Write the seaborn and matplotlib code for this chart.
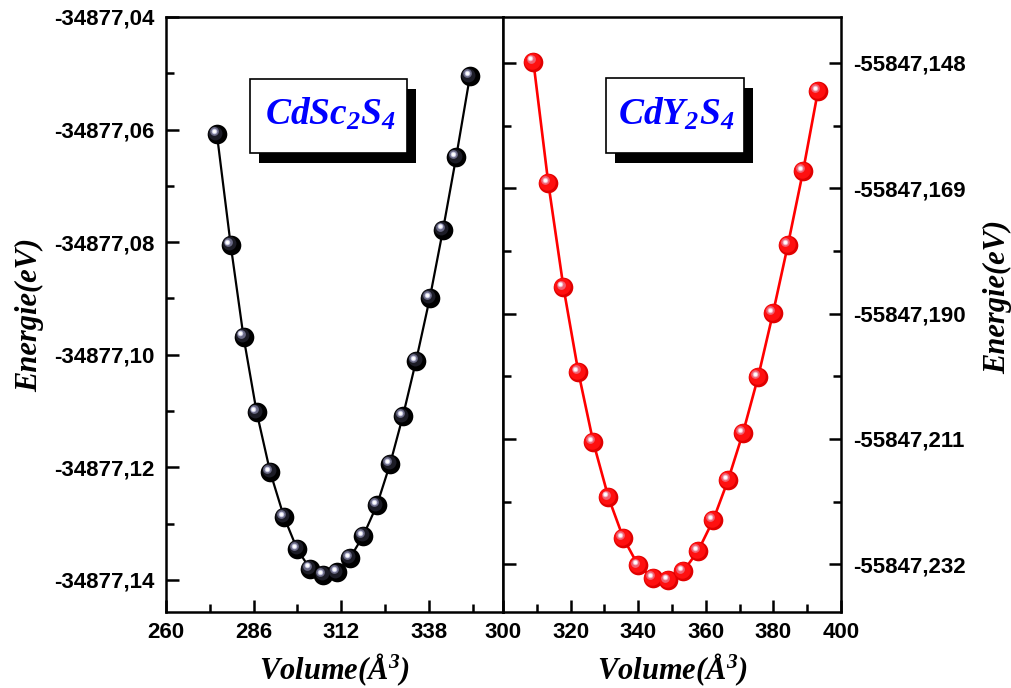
import matplotlib
matplotlib.use("Agg")
import matplotlib.pyplot as plt
import matplotlib.transforms as mtransforms
from matplotlib.patches import Rectangle
from matplotlib.ticker import FixedLocator, FuncFormatter
from matplotlib.font_manager import FontProperties
import pandas as pd
import seaborn as sns

# CdSc2S4: cell volume (Å^3) and total energy (eV)
vol_cdsc2s4 = [275.1, 279.2, 283.0, 286.9, 290.9, 295.0, 298.9, 302.7, 306.6, 310.7,
               314.6, 318.5, 322.6, 326.5, 330.3, 334.2, 338.3, 342.2, 346.1, 350.2]
e_cdsc2s4 = [-34877.0608, -34877.0805, -34877.0968, -34877.1102, -34877.1208,
             -34877.1288, -34877.1345, -34877.1380, -34877.1391, -34877.1386,
             -34877.1361, -34877.1322, -34877.1267, -34877.1194, -34877.1109,
             -34877.1011, -34877.0899, -34877.0778, -34877.0649, -34877.0505]

# CdY2S4: cell volume (Å^3) and total energy (eV)
vol_cdy2s4 = [309.0, 313.4, 317.9, 322.3, 326.7, 331.2, 335.6, 340.0, 344.4, 348.9,
              353.3, 357.7, 362.2, 366.6, 371.0, 375.5, 379.9, 384.3, 388.8, 393.2]
e_cdy2s4 = [-55847.1478, -55847.1681, -55847.1856, -55847.1998, -55847.2115,
            -55847.2208, -55847.2276, -55847.2322, -55847.2343, -55847.2347,
            -55847.2332, -55847.2298, -55847.2246, -55847.2179, -55847.2100,
            -55847.2006, -55847.1899, -55847.1785, -55847.1661, -55847.1527]

# axis ticks
x_major_left = [260, 286, 312, 338]
x_minor_left = [273, 299, 325, 351]
y_major_left = [-34877.04, -34877.06, -34877.08, -34877.10, -34877.12, -34877.14]
y_minor_left = [-34877.05, -34877.07, -34877.09, -34877.11, -34877.13]
x_major_right = [300, 320, 340, 360, 380, 400]
x_minor_right = [310, 330, 350, 370, 390]
y_major_right = [-55847.148, -55847.169, -55847.190, -55847.211, -55847.232]
y_minor_right = [-55847.1585, -55847.1795, -55847.2005, -55847.2215]

sns.set_style("white")
plt.rcParams.update({
    "mathtext.default": "regular",
    "text.color": "black",
    "axes.labelcolor": "black",
    "xtick.color": "black",
    "ytick.color": "black",
})

fig = plt.figure(figsize=(10.11, 6.88), dpi=100)
ax1 = fig.add_axes([0.1642, 0.1105, 0.3333, 0.8648])
ax2 = fig.add_axes([0.4975, 0.1105, 0.3343, 0.8648])

df1 = pd.DataFrame({"V": vol_cdsc2s4, "E": e_cdsc2s4})
df2 = pd.DataFrame({"V": vol_cdy2s4, "E": e_cdy2s4})

tick_font = dict(family="Liberation Sans", weight="bold", size=16)
label_font = dict(family="Liberation Serif", weight="bold", style="italic", size=22)


def spheres(ax, df, line_color, lw, layers):
    sns.lineplot(data=df, x="V", y="E", ax=ax, color=line_color, lw=lw,
                 sort=False, zorder=2)
    for dx, dy, size, color in layers:
        tr = mtransforms.offset_copy(ax.transData, fig=fig, x=dx, y=dy, units="dots")
        ax.scatter(df["V"], df["E"], s=size, color=color, linewidths=0,
                   transform=tr, zorder=3)


spheres(ax1, df1, "black", 1.6, [
    (0, 0, 200, "#000000"),
    (-1.5, 1.5, 100, "#1c1c26"),
    (-2.8, 2.8, 40, "#6a6a86"),
    (-3.3, 3.3, 16, "#c8c8e0"),
    (-3.3, 3.3, 6, "#ffffff"),
])
spheres(ax2, df2, "#ff0000", 1.9, [
    (0, 0, 200, "#e00000"),
    (-1, 1, 140, "#ff1010"),
    (-2.8, 2.8, 40, "#f06070"),
    (-3.3, 3.3, 16, "#f4b8c8"),
    (-3.3, 3.3, 6, "#ffffff"),
])


def style_axes(ax, xlim, ylim, xmaj, xmin, ymaj, ymin, yfmt):
    ax.set_xlim(*xlim)
    ax.set_ylim(*ylim)
    ax.xaxis.set_major_locator(FixedLocator(xmaj))
    ax.xaxis.set_minor_locator(FixedLocator(xmin))
    ax.yaxis.set_major_locator(FixedLocator(ymaj))
    ax.yaxis.set_minor_locator(FixedLocator(ymin))
    ax.xaxis.set_major_formatter(FuncFormatter(lambda v, p: f"{v:.0f}"))
    ax.yaxis.set_major_formatter(FuncFormatter(lambda v, p: yfmt.format(v).replace(".", ",")))
    for s in ax.spines.values():
        s.set_linewidth(1.8)
        s.set_color("black")
    ax.tick_params(which="major", direction="in", length=9, width=1.8, color="black")
    ax.tick_params(which="minor", direction="in", length=5.5, width=1.8, color="black")
    ax.tick_params(axis="x", which="both", bottom=True, top=False, pad=7)
    ax.set_xlabel("Volume(Å$^3$)", color="black", **label_font)
    ax.xaxis.set_label_coords(0.5, -0.066)
    ax.set_ylabel("Energie(eV)", color="black", **label_font)


style_axes(ax1, (260, 360), (-34877.1457, -34877.04), x_major_left, x_minor_left,
           y_major_left, y_minor_left, "{:.2f}")
ax1.tick_params(axis="y", which="both", left=True, right=False, pad=8.5)
ax1.yaxis.set_label_coords(-0.36, 0.5)

style_axes(ax2, (300, 400), (-55847.2400, -55847.1403), x_major_right, x_minor_right,
           y_major_right, y_minor_right, "{:.3f}")
ax2.tick_params(axis="y", which="both", left=True, right=True,
                labelleft=False, labelright=True, pad=8.5)
ax2.yaxis.set_label_position("right")
ax2.yaxis.set_label_coords(1.42, 0.53)

for ax in (ax1, ax2):
    for lab in ax.get_xticklabels() + ax.get_yticklabels():
        lab.set_fontproperties(FontProperties(**tick_font))
        lab.set_color("black")


def title_box(ax, x0, y0, w, h, text):
    sx, sy = 9 / (ax.bbox.width), 10 / (ax.bbox.height)
    ax.add_patch(Rectangle((x0 + sx, y0 - sy), w, h, transform=ax.transAxes,
                           facecolor="black", edgecolor="black", lw=0, zorder=5))
    ax.add_patch(Rectangle((x0, y0), w, h, transform=ax.transAxes,
                           facecolor="white", edgecolor="black", lw=1.2, zorder=6))
    ax.text(x0 + w / 2 + 0.005, y0 + h / 2 + 0.002, text, transform=ax.transAxes,
            ha="center", va="center", color="#0000ff", family="Liberation Serif",
            weight="bold", style="italic", size=27, zorder=7)


title_box(ax1, 0.249, 0.771, 0.466, 0.125, "CdSc$_2$S$_4$")
title_box(ax2, 0.305, 0.771, 0.408, 0.126, "CdY$_2$S$_4$")

fig.savefig("out.png", dpi=100, facecolor="white")
